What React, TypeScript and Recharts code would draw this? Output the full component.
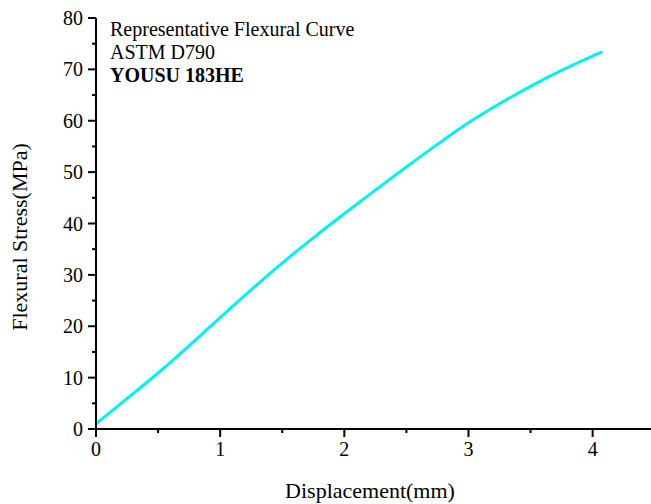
import React from "react";
import { LineChart, Line, XAxis, YAxis, Label } from "recharts";

const displacement = [0, 0.25, 0.5, 0.75, 1.0, 1.25, 1.5, 1.75, 2.0, 2.25, 2.5, 2.75, 3.0, 3.25, 3.5, 3.75, 4.0, 4.08];
const stress = [1.0, 5.9, 10.9, 16.2, 21.7, 27.1, 32.3, 37.2, 41.9, 46.5, 51.0, 55.4, 59.6, 63.3, 66.7, 69.8, 72.6, 73.4];

const xTicks = [0, 0.5, 1, 1.5, 2, 2.5, 3, 3.5, 4];
const yTicks = [0, 5, 10, 15, 20, 25, 30, 35, 40, 45, 50, 55, 60, 65, 70, 75, 80];

const titleLines = ["Representative Flexural Curve", "ASTM D790", "YOUSU 183HE"];

const data = displacement.map((d, i) => ({ x: d, y: stress[i] }));

const FONT = "'Liberation Serif', 'Times New Roman', serif";
// recharts puts the tick label tickSize + tickMargin away from the axis line
const OFFSET = 8;

function XTick(props: any) {
  const { x, payload } = props;
  const y = props.y - OFFSET;
  const major = Number.isInteger(payload.value);
  return (
    <g>
      <line x1={x} x2={x} y1={y} y2={y + (major ? 8 : 4)} stroke="#000" strokeWidth={2} />
      {major && (
        <text x={x} y={y + 27} textAnchor="middle" fontFamily={FONT} fontSize={20} fill="#000">
          {payload.value}
        </text>
      )}
    </g>
  );
}

function YTick(props: any) {
  const { y, payload } = props;
  const x = props.x + OFFSET;
  const major = payload.value % 10 === 0;
  return (
    <g>
      <line x1={x} x2={x - (major ? 8 : 4)} y1={y} y2={y} stroke="#000" strokeWidth={2} />
      {major && (
        <text x={x - 13} y={y + 7} textAnchor="end" fontFamily={FONT} fontSize={20} fill="#000">
          {payload.value}
        </text>
      )}
    </g>
  );
}

export default function App() {
  return (
    <div style={{ position: "absolute", left: 0, top: 0, width: 651, height: 504, background: "#fff" }}>
      <LineChart width={651} height={504} data={data} margin={{ top: 18, right: 0, bottom: 0, left: 0 }}>
        <XAxis
          dataKey="x"
          type="number"
          domain={[0, 4.47]}
          ticks={xTicks}
          tick={<XTick />}
          tickLine={false}
          tickSize={6}
          tickMargin={2}
          axisLine={{ stroke: "#000", strokeWidth: 2 }}
          height={75}
          interval={0}
        >
          <Label
            content={() => (
              <text x={370} y={498} textAnchor="middle" fontFamily={FONT} fontSize={22} fill="#000">
                Displacement(mm)
              </text>
            )}
          />
        </XAxis>
        <YAxis
          type="number"
          domain={[0, 80]}
          ticks={yTicks}
          tick={<YTick />}
          tickLine={false}
          tickSize={6}
          tickMargin={2}
          axisLine={{ stroke: "#000", strokeWidth: 2 }}
          width={96}
          interval={0}
        >
          <Label
            content={() => (
              <text
                x={27}
                y={237}
                transform="rotate(-90 27 237)"
                textAnchor="middle"
                fontFamily={FONT}
                fontSize={22}
                fill="#000"
              >
                Flexural Stress(MPa)
              </text>
            )}
          />
        </YAxis>
        <Line
          type="monotone"
          dataKey="y"
          stroke="#00F0F0"
          strokeWidth={3}
          dot={false}
          isAnimationActive={false}
        />
        {titleLines.map((t, i) => (
          <text
            key={t}
            x={110}
            y={36 + i * 23}
            fontFamily={FONT}
            fontSize={20}
            fontWeight={i === 2 ? "bold" : "normal"}
            fill="#000"
          >
            {t}
          </text>
        ))}
      </LineChart>
    </div>
  );
}
